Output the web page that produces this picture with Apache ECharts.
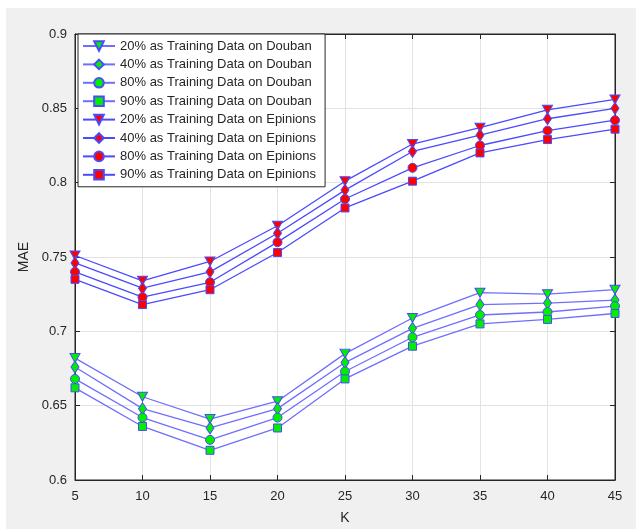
<!DOCTYPE html>
<html>
<head>
<meta charset="utf-8">
<script src="https://cdn.jsdelivr.net/npm/echarts@6/dist/echarts.min.js"></script>
<style>
html,body{margin:0;padding:0;background:#fff;}
#c{width:636px;height:531px;}
</style>
</head>
<body>
<div id="c"></div>
<script>
const kValues = [5, 10, 15, 20, 25, 30, 35, 40, 45];
const yTicks = [0.6, 0.65, 0.7, 0.75, 0.8, 0.85, 0.9];

const douban20 = [0.682, 0.656, 0.641, 0.653, 0.685, 0.709, 0.726, 0.725, 0.728];
const douban40 = [0.676, 0.648, 0.635, 0.648, 0.679, 0.702, 0.718, 0.719, 0.721];
const douban80 = [0.668, 0.642, 0.627, 0.642, 0.673, 0.696, 0.711, 0.713, 0.717];
const douban90 = [0.662, 0.636, 0.620, 0.635, 0.668, 0.690, 0.705, 0.708, 0.712];

const epinions20 = [0.751, 0.734, 0.747, 0.771, 0.801, 0.826, 0.837, 0.849, 0.856];
const epinions40 = [0.746, 0.729, 0.740, 0.766, 0.795, 0.821, 0.832, 0.843, 0.850];
const epinions80 = [0.740, 0.723, 0.733, 0.760, 0.789, 0.810, 0.825, 0.835, 0.842];
const epinions90 = [0.735, 0.718, 0.728, 0.753, 0.783, 0.801, 0.820, 0.829, 0.836];

const seriesNames = [
  '20% as Training Data on Douban',
  '40% as Training Data on Douban',
  '80% as Training Data on Douban',
  '90% as Training Data on Douban',
  '20% as Training Data on Epinions',
  '40% as Training Data on Epinions',
  '80% as Training Data on Epinions',
  '90% as Training Data on Epinions'
];
const seriesData = [douban20, douban40, douban80, douban90, epinions20, epinions40, epinions80, epinions90];

const FONT = 'Liberation Sans, Arial, sans-serif';
const TXT = '#262626';

const symbols = [
  {symbol: 'triangle', size: [10, 9], rotate: 180},
  {symbol: 'diamond', size: [8, 12], rotate: 0},
  {symbol: 'circle', size: 9, rotate: 0},
  {symbol: 'rect', size: 8, rotate: 0}
];

const series = seriesData.map((d, i) => {
  const s = symbols[i % 4];
  const isDouban = i < 4;
  return {
    name: seriesNames[i],
    type: 'line',
    data: kValues.map((k, j) => [k, d[j]]),
    symbol: s.symbol,
    symbolSize: s.size,
    symbolRotate: s.rotate,
    showAllSymbol: true,
    lineStyle: {color: isDouban ? '#6e6eff' : '#4a4aff', width: 1.3},
    itemStyle: {color: isDouban ? '#00ee00' : '#ff0000', borderColor: '#4a4aff', borderWidth: 1},
    emphasis: {disabled: true},
    animation: false,
    z: 3
  };
});

const chart = echarts.init(document.getElementById('c'), null, {renderer: 'canvas'});
chart.setOption({
  animation: false,
  backgroundColor: '#fff',
  graphic: [{
    type: 'rect', z: -10, silent: true,
    shape: {x: 6, y: 8, width: 630, height: 521},
    style: {fill: '#f0f0f0'}
  }],
  grid: {
    left: 75, right: 21, top: 34, bottom: 51,
    show: true, backgroundColor: '#ffffff', borderColor: TXT, borderWidth: 1
  },
  legend: {
    orient: 'vertical',
    left: 78, top: 34,
    padding: [5, 9, 5, 4],
    itemWidth: 32, itemHeight: 12, itemGap: 4.4,
    backgroundColor: '#ffffff',
    borderColor: TXT, borderWidth: 1,
    borderRadius: 0,
    textStyle: {fontFamily: FONT, fontSize: 13, color: TXT, lineHeight: 14},
    data: seriesNames,
    selectedMode: false
  },
  xAxis: [{
    type: 'value', min: 5, max: 45, interval: 5,
    name: 'K', nameLocation: 'middle', nameGap: 31,
    nameTextStyle: {fontFamily: FONT, fontSize: 14, color: TXT},
    axisLine: {show: true, onZero: false, lineStyle: {color: TXT, width: 1}},
    axisTick: {show: true, inside: true, length: 5, lineStyle: {color: TXT}},
    axisLabel: {fontFamily: FONT, fontSize: 13, color: TXT, margin: 10},
    splitLine: {show: true, lineStyle: {color: '#e3e3e3', width: 1}}
  }, {
    type: 'value', min: 5, max: 45, interval: 5, position: 'top',
    axisLine: {show: true, onZero: false, lineStyle: {color: TXT, width: 1}},
    axisTick: {show: true, inside: true, length: 5, lineStyle: {color: TXT}},
    axisLabel: {show: false}, splitLine: {show: false}
  }],
  yAxis: [{
    type: 'value', min: 0.6, max: 0.9, interval: 0.05,
    name: 'MAE', nameLocation: 'middle', nameGap: 44, nameRotate: 90,
    nameTextStyle: {fontFamily: FONT, fontSize: 14, color: TXT},
    axisLine: {show: true, onZero: false, lineStyle: {color: TXT, width: 1}},
    axisTick: {show: true, inside: true, length: 5, lineStyle: {color: TXT}},
    axisLabel: {fontFamily: FONT, fontSize: 13, color: TXT, margin: 8,
      formatter: v => String(parseFloat(v.toFixed(2)))},
    splitLine: {show: true, lineStyle: {color: '#e3e3e3', width: 1}}
  }, {
    type: 'value', min: 0.6, max: 0.9, interval: 0.05, position: 'right',
    axisLine: {show: true, onZero: false, lineStyle: {color: TXT, width: 1}},
    axisTick: {show: true, inside: true, length: 5, lineStyle: {color: TXT}},
    axisLabel: {show: false}, splitLine: {show: false}
  }],
  series: series
});
</script>
</body>
</html>
